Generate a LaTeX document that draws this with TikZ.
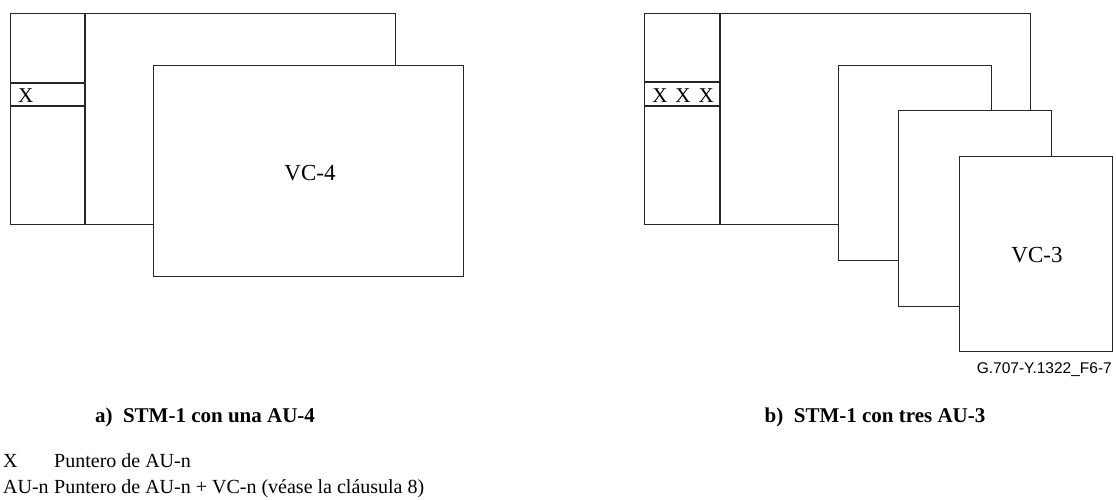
\documentclass[tikz,border=0pt]{standalone}
\usepackage{fontspec}
\setmainfont{Liberation Serif}
\newfontfamily\arialf{Liberation Sans}
\begin{document}
\begin{tikzpicture}[x=1pt,y=1pt,
  frame/.style={draw=black!85,line width=1.3pt,fill=white,inner sep=0pt,anchor=north west},
  rule/.style={draw=black!85,line width=1.3pt},
  lbl/.style={inner sep=0pt,font=\fontsize{21}{21}\selectfont},
  caption/.style={inner sep=0pt,font=\fontsize{21}{21}\selectfont\bfseries,anchor=base},
  legend/.style={inner sep=0pt,font=\fontsize{20}{20}\selectfont,anchor=base west}]
\useasboundingbox (0,0) rectangle (1116,-499);
% ---------- a) ----------
\node[frame,minimum width=385pt,minimum height=211pt] (auA) at (10,-13) {};
\coordinate (dA1) at (85,-13);
\coordinate (dA2) at (85,-224);
\draw[rule] (dA1) -- (dA2);
\draw[rule] (auA.north west |- 0,-83) -- (dA1 |- 0,-83);
\draw[rule] (auA.north west |- 0,-106) -- (dA1 |- 0,-106);
\node[lbl,anchor=base west] (xA) at (18,-102) {X};
\node[frame,minimum width=310pt,minimum height=211pt] (vc4) at (153,-65) {};
\node[lbl,anchor=base,font=\fontsize{23}{23}\selectfont] (vc4t) at (310,-180) {VC-4};
% ---------- b) ----------
\node[frame,minimum width=386pt,minimum height=211pt] (auB) at (644,-13) {};
\coordinate (dB1) at (720,-13);
\coordinate (dB2) at (720,-224);
\draw[rule] (dB1) -- (dB2);
\draw[rule] (auB.north west |- 0,-82) -- (dB1 |- 0,-82);
\draw[rule] (auB.north west |- 0,-106) -- (dB1 |- 0,-106);
\node[lbl,anchor=base] (xB) at (683,-102) {X\hspace{8pt}X\hspace{8pt}X};
\node[frame,minimum width=153pt,minimum height=195pt] (b1) at (838,-65) {};
\node[frame,minimum width=153pt,minimum height=196pt] (b2) at (898,-110) {};
\node[frame,minimum width=153pt,minimum height=195pt] (b3) at (959,-156) {};
\node[lbl,anchor=base,font=\fontsize{23}{23}\selectfont] (vc3t) at (1037,-262) {VC-3};
\node[inner sep=0pt,anchor=base east,font=\arialf\fontsize{15.5}{15.5}\selectfont] (ref) at (1112,-373) {G.707-Y.1322\_F6-7};
% ---------- captions ----------
\node[caption] (capA) at (205,-422) {a)\ \ STM-1 con una AU-4};
\node[caption] (capB) at (875,-422) {b)\ \ STM-1 con tres AU-3};
% ---------- legend ----------
\node[legend] (l1a) at (3,-467) {X};
\node[legend] (l1b) at (54,-467) {Puntero de AU-n};
\node[legend] (l2a) at (3,-493) {AU-n};
\node[legend] (l2b) at (54,-493) {Puntero de AU-n + VC-n (véase la cláusula 8)};
\end{tikzpicture}
\end{document}
